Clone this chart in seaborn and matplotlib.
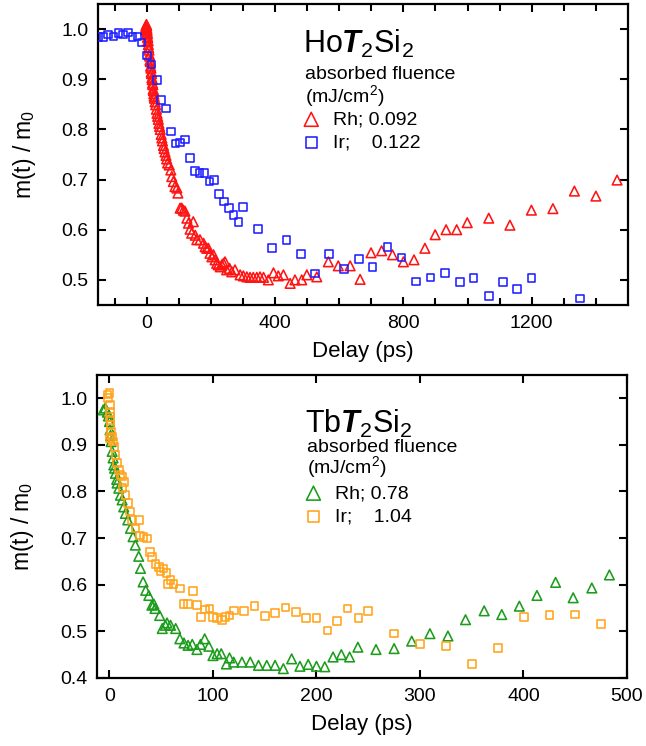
import numpy as np
import pandas as pd
import matplotlib
matplotlib.use("Agg")
import matplotlib.pyplot as plt
import seaborn as sns

# ---------------- data ----------------
# Top panel: HoT2Si2
ho_rh_x = [-4, -3, -2, -1, 0, 0.5, 1, 1.5, 2, 2.5, 3, 3.5, 4, 5, 6, 7, 8, 9, 10, 11, 12, 13, 14, 15,
           16, 17, 18, 19, 20, 21, 22, 23, 24, 26, 28, 30, 32, 34, 36, 38, 40, 42, 45, 47, 49, 52, 54,
           57, 60, 62, 65, 70, 75, 78, 83, 88, 94, 97, 104, 109, 114, 119, 125, 130, 135, 140, 145,
           151, 156, 166, 177, 182, 187, 192, 197, 203, 208, 213, 218, 223, 229, 234, 239, 244, 249,
           258, 265, 275, 291, 301, 312, 322, 332, 343, 353, 364, 379, 395, 410, 426, 447, 462, 483,
           499, 530, 566, 597, 634, 665, 699, 732, 766, 800, 833, 867, 899, 933, 966, 999, 1066,
           1132, 1199, 1266, 1333, 1400, 1466]
ho_rh_y = [0.998, 1.004, 1.007, 1.009, 1.006, 1.001, 0.997, 0.993, 0.990, 0.984, 0.983, 0.976, 0.977,
           0.969, 0.963, 0.958, 0.949, 0.946, 0.938, 0.935, 0.926, 0.922, 0.914, 0.911, 0.903, 0.899,
           0.892, 0.889, 0.880, 0.877, 0.871, 0.866, 0.862, 0.855, 0.849, 0.840, 0.832, 0.826, 0.820,
           0.812, 0.806, 0.800, 0.790, 0.783, 0.777, 0.768, 0.762, 0.755, 0.748, 0.741, 0.733, 0.729,
           0.719, 0.706, 0.696, 0.686, 0.683, 0.673, 0.643, 0.643, 0.639, 0.637, 0.623, 0.613, 0.601,
           0.593, 0.616, 0.589, 0.580, 0.580, 0.573, 0.566, 0.563, 0.563, 0.553, 0.546, 0.550, 0.540,
           0.533, 0.530, 0.526, 0.530, 0.533, 0.536, 0.520, 0.523, 0.516, 0.520, 0.510, 0.508, 0.506,
           0.505, 0.505, 0.505, 0.506, 0.505, 0.500, 0.514, 0.508, 0.510, 0.493, 0.500, 0.500, 0.510,
           0.506, 0.536, 0.528, 0.528, 0.501, 0.554, 0.558, 0.550, 0.536, 0.540, 0.563, 0.590, 0.600,
           0.600, 0.614, 0.623, 0.609, 0.639, 0.642, 0.677, 0.667, 0.699]

ho_ir_x = [-151, -135, -120, -104, -88, -75, -59, -45, -29, -16, 0, 15, 31, 45, 60, 75, 89, 104, 119,
           134, 151, 165, 180, 195, 210, 225, 241, 256, 270, 286, 300, 346, 390, 436, 480, 525, 569,
           615, 661, 704, 750, 794, 839, 884, 930, 976, 1019, 1066, 1110, 1154, 1199, 1350]
ho_ir_y = [0.984, 0.984, 0.989, 0.985, 0.992, 0.989, 0.993, 0.984, 0.985, 0.973, 0.947, 0.929, 0.899,
           0.859, 0.842, 0.796, 0.772, 0.774, 0.780, 0.743, 0.717, 0.713, 0.713, 0.696, 0.699, 0.671,
           0.656, 0.643, 0.629, 0.615, 0.645, 0.601, 0.563, 0.580, 0.551, 0.513, 0.551, 0.522, 0.542,
           0.526, 0.566, 0.545, 0.497, 0.505, 0.514, 0.496, 0.504, 0.468, 0.496, 0.482, 0.504, 0.463]

# Bottom panel: TbT2Si2
tb_rh_x = [-6, -4, -2, -1, 0, 0.5, 1, 1.6, 2.6, 3.5, 4.2, 5, 5.8, 7, 7.4, 9, 10.6, 12.2, 13.8, 15.4,
           17.7, 20.3, 22.8, 25, 28.3, 30, 32.5, 35, 38, 41, 43, 44, 48.5, 51, 54, 55.6, 59, 64, 68,
           72, 76, 80, 84.5, 88, 92, 96, 100, 104, 108, 113, 116, 120, 128, 136, 144, 152, 160, 168,
           176, 184, 192, 200, 208, 216, 224, 232, 240, 257.5, 275, 292, 309.6, 327, 344, 362, 379,
           396, 413, 431, 448, 466, 483]
tb_rh_y = [0.975, 0.979, 0.970, 0.962, 0.950, 0.932, 0.920, 0.907, 0.886, 0.872, 0.857, 0.850, 0.839,
           0.826, 0.818, 0.807, 0.792, 0.782, 0.767, 0.753, 0.739, 0.721, 0.703, 0.685, 0.661, 0.635,
           0.606, 0.588, 0.577, 0.556, 0.558, 0.549, 0.534, 0.506, 0.513, 0.518, 0.513, 0.506, 0.484,
           0.475, 0.470, 0.472, 0.461, 0.472, 0.484, 0.468, 0.448, 0.452, 0.452, 0.430, 0.443, 0.434,
           0.434, 0.434, 0.427, 0.427, 0.427, 0.420, 0.441, 0.425, 0.429, 0.425, 0.424, 0.445, 0.450,
           0.445, 0.466, 0.461, 0.463, 0.479, 0.495, 0.490, 0.525, 0.544, 0.536, 0.554, 0.577, 0.605,
           0.572, 0.593, 0.621]

tb_ir_x = [-2, -1.6, 0, 0.3, 0.5, 0.6, 0.8, 1, 1.2, 1.6, 2.6, 3.6, 4.8, 5.8, 7.4, 9, 10.6, 12.2, 12.5,
           13.8, 15.4, 17.7, 19.6, 21.9, 25, 28.3, 29.3, 33, 36.3, 39, 41, 44.4, 47.6, 49.2, 52.4, 55,
           56.3, 58.8, 62, 68, 71.7, 76, 80.7, 84.6, 88.4, 92.6, 96.8, 100, 104, 108.7, 112, 116,
           120.5, 130, 140, 150.4, 160, 170, 180, 190, 200, 210.5, 220, 230, 240.5, 250, 275, 300,
           325, 350, 375.5, 400.5, 425, 450, 475]
tb_ir_y = [1.008, 1.000, 1.011, 0.986, 0.960, 0.970, 0.915, 0.943, 0.952, 0.929, 0.918, 0.907, 0.896,
           0.878, 0.861, 0.846, 0.835, 0.832, 0.807, 0.821, 0.792, 0.775, 0.757, 0.739, 0.721, 0.739,
           0.706, 0.703, 0.699, 0.670, 0.660, 0.645, 0.638, 0.628, 0.635, 0.625, 0.602, 0.610, 0.602,
           0.592, 0.559, 0.559, 0.587, 0.556, 0.531, 0.547, 0.549, 0.531, 0.529, 0.524, 0.531, 0.534,
           0.545, 0.544, 0.554, 0.533, 0.540, 0.551, 0.541, 0.529, 0.529, 0.502, 0.522, 0.549, 0.529,
           0.543, 0.495, 0.473, 0.468, 0.430, 0.464, 0.531, 0.535, 0.536, 0.516]

top_xticks = [0, 400, 800, 1200]
top_yticks = [0.5, 0.6, 0.7, 0.8, 0.9, 1.0]
bot_xticks = [0, 100, 200, 300, 400, 500]
bot_yticks = [0.4, 0.5, 0.6, 0.7, 0.8, 0.9, 1.0]

# ---------------- style ----------------
sns.set_style("ticks")
plt.rcParams['font.family'] = ['Liberation Sans', 'DejaVu Sans']
plt.rcParams['mathtext.fontset'] = 'custom'
plt.rcParams['mathtext.rm'] = 'Liberation Sans'
plt.rcParams['mathtext.it'] = 'Liberation Sans:italic'
plt.rcParams['mathtext.bf'] = 'Liberation Sans:bold:italic'
plt.rcParams['text.color'] = 'black'
plt.rcParams['axes.labelcolor'] = 'black'
plt.rcParams['xtick.color'] = 'black'
plt.rcParams['ytick.color'] = 'black'

RED, BLUE = '#ff1414', '#1e1eff'
GREEN, ORANGE = '#1c9c1c', '#ffa31a'

fig = plt.figure(figsize=(6.46, 7.46), dpi=100)
ax1 = fig.add_axes([0.1517, 0.5912, 0.8204, 0.4035])
ax2 = fig.add_axes([0.1502, 0.0912, 0.8204, 0.4062])

def scatter(ax, x, y, color, marker, s, label):
    sns.scatterplot(x=x, y=y, ax=ax, marker=marker, s=s, color=color,
                    facecolor='none', edgecolor=color, linewidth=1.15,
                    label=label, legend=False, zorder=3)

scatter(ax1, ho_rh_x, ho_rh_y, RED, '^', 48, 'Rh; 0.092')
scatter(ax1, ho_ir_x, ho_ir_y, BLUE, 's', 30, 'Ir;    0.122')
scatter(ax2, tb_rh_x, tb_rh_y, GREEN, '^', 48, 'Rh; 0.78')
scatter(ax2, tb_ir_x, tb_ir_y, ORANGE, 's', 30, 'Ir;    1.04')

def style_axes(ax, xlim, ylim, xticks, yticks):
    ax.set_xlim(*xlim)
    ax.set_ylim(*ylim)
    ax.set_xticks(xticks)
    ax.set_yticks(yticks)
    ax.set_yticklabels([f"{v:.1f}" for v in yticks])
    for sp in ax.spines.values():
        sp.set_linewidth(1.6)
        sp.set_color('black')
        sp.set_visible(True)
    ax.tick_params(which='both', direction='in', top=True, right=True,
                   width=1.5, labelsize=14, pad=7, colors='black')
    ax.tick_params(which='major', length=6)
    ax.tick_params(which='minor', length=5)
    ax.set_xlabel('Delay (ps)', fontsize=16, labelpad=7, color='black')
    ax.set_ylabel(r'm(t) / m$_0$', fontsize=16.5, labelpad=17, color='black')

style_axes(ax1, (-152, 1500), (0.45, 1.05), top_xticks, top_yticks)
ax1.set_xticks(np.arange(-100, 1500, 100), minor=True)
style_axes(ax2, (-12, 500), (0.40, 1.05), bot_xticks, bot_yticks)

def annot(ax, name, x0, y_title, y_abs, y_unit, leg_anchor):
    ax.text(x0, y_title, name, transform=ax.transAxes, fontsize=22, va='baseline', ha='left')
    ax.text(x0 + 0.004, y_abs, 'absorbed fluence', transform=ax.transAxes, fontsize=14,
            va='baseline', ha='left')
    ax.text(x0 + 0.004, y_unit, r'(mJ/cm$^2$)', transform=ax.transAxes, fontsize=14,
            va='baseline', ha='left')
    ax.legend(loc='upper left', bbox_to_anchor=leg_anchor, frameon=False, fontsize=14,
              markerscale=1.45, handlelength=1.0, handletextpad=0.6, labelspacing=0.3,
              borderpad=0, borderaxespad=0, labelcolor='black')

annot(ax1, r'Ho$\mathbf{T}_{\mathrm{2}}$Si$_{\mathrm{2}}$', 0.387, 0.837, 0.751, 0.674,
      (0.384, 0.645))
annot(ax2, r'Tb$\mathbf{T}_{\mathrm{2}}$Si$_{\mathrm{2}}$', 0.392, 0.809, 0.747, 0.676,
      (0.39, 0.638))

fig.savefig('out.png', dpi=100)
